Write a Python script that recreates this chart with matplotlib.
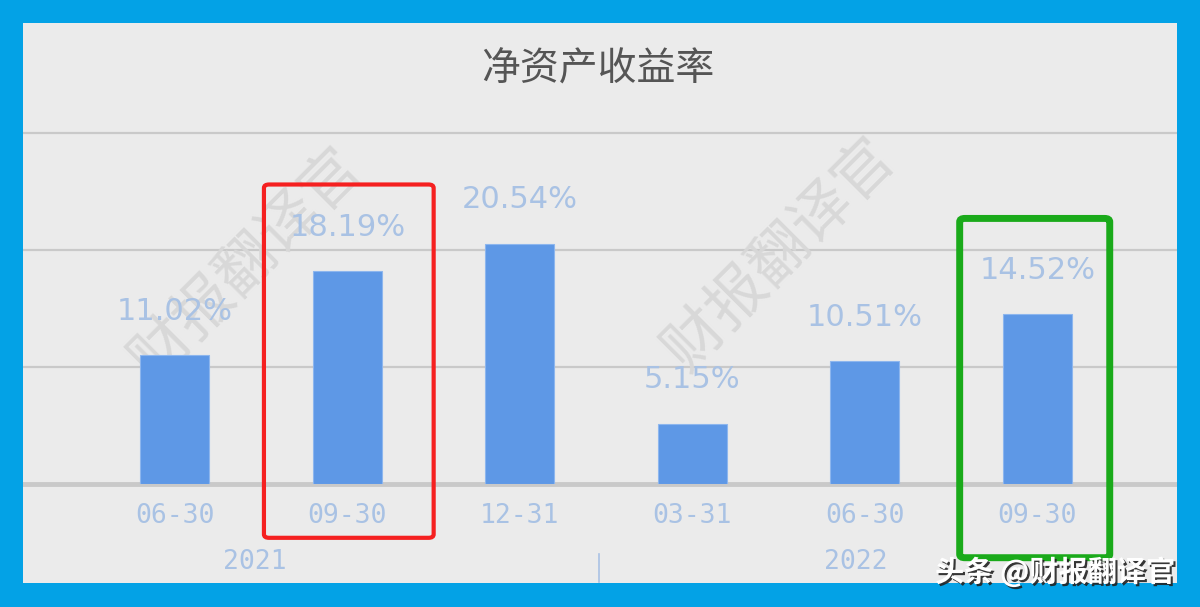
import matplotlib
matplotlib.use("Agg")
import matplotlib.pyplot as plt
from matplotlib.patches import Rectangle, FancyBboxPatch
import matplotlib.patheffects as pe

plt.rcParams['font.family'] = ['Noto Sans CJK SC', 'DejaVu Sans']

title = "净资产收益率"
categories = ['06-30', '09-30', '12-31', '03-31', '06-30', '09-30']
values = [11.02, 18.19, 20.54, 5.15, 10.51, 14.52]
years = ['2021', '2022']
year_pos = [0.46, 3.95]
year_sep = 2.46
highlight_red = 1
highlight_green = 5
watermark = "财报翻译官"
credit = "头条 @财报翻译官"

W, H = 1200, 607
fig = plt.figure(figsize=(W / 100, H / 100), dpi=100)
fig.patch.set_facecolor('#ebebeb')

# blue frame
blue = '#03a2e6'
for (x0, y0, w, h) in [(0, 0, 23, H), (1177, 0, W - 1177, H), (0, 0, W, 607 - 583), (0, 607 - 23, W, 23)]:
    fig.patches.append(Rectangle((x0 / W, y0 / H), w / W, h / H, transform=fig.transFigure,
                                 facecolor=blue, edgecolor='none', zorder=0))

ax = fig.add_axes([23 / W, 123 / H, (1177 - 23) / W, (585 - 123) / H])
ax.set_facecolor('#ebebeb')
ax.set_xlim(-0.881, 5.81)
ax.set_ylim(0, 39.49)

x = list(range(len(categories)))
ax.bar(x, values, width=0.4, color='#5e98e6', edgecolor='#8db6ee', linewidth=0.8, zorder=3)

ax.set_yticks([10, 20, 30])
ax.yaxis.grid(True, color='#c9c9c9', linewidth=1.6)
ax.set_axisbelow(True)
ax.tick_params(axis='y', left=False, labelleft=False)
for s in ['top', 'right', 'left']:
    ax.spines[s].set_visible(False)
ax.spines['bottom'].set_color('#c9c9c9')
ax.spines['bottom'].set_linewidth(3.5)

ax.set_xticks(x)
ax.set_xticklabels(categories, family=['DejaVu Sans Mono'], fontsize=19, color='#a9c2e4')
ax.tick_params(axis='x', length=0, pad=14)

for xi, v in zip(x, values):
    ax.annotate(f"{v:.2f}%", (xi, v), xytext=(0, 31.5), textcoords='offset points',
                ha='center', va='center', fontsize=22, color='#a9c2e4',
                family=['DejaVu Sans'], zorder=4)

for yp, yl in zip(year_pos, years):
    ax.text(yp, -6.67, yl, ha='center', va='center', fontsize=19, color='#a9c2e4',
            family=['DejaVu Sans Mono'], clip_on=False)
ax.plot([year_sep, year_sep], [-6.0, -8.4], color='#a9c2e4', linewidth=1.2, clip_on=False)

fig.text(598 / W, 1 - 70 / H, title, ha='center', va='center', fontsize=28, color='#555555')

# watermarks (faint, thin)
for (wx, wy) in [(247, 265), (780, 255)]:
    ax.text(wx / W, 1 - wy / H, watermark, ha='center', va='center', rotation=45,
            fontsize=43, color='#d8d8d8', weight='light', zorder=1,
            transform=fig.transFigure, clip_on=False)

# highlight boxes
ax.add_patch(FancyBboxPatch((highlight_red - 0.484, -4.6), 0.984, 30.2,
                            boxstyle='round,pad=0,rounding_size=0.03', fill=False,
                            edgecolor='#f52020', linewidth=3, clip_on=False, zorder=5,
                            mutation_aspect=10))
ax.add_patch(FancyBboxPatch((highlight_green - 0.45, -6.3), 0.87, 29.0,
                            boxstyle='round,pad=0,rounding_size=0.03', fill=False,
                            edgecolor='#1aaa1a', linewidth=5, clip_on=False, zorder=5,
                            mutation_aspect=10))

fig.text(1055 / W, 1 - 572 / H, credit, ha='center', va='center', fontsize=21,
         color='white', weight='bold', zorder=10,
         path_effects=[pe.withSimplePatchShadow(offset=(1.5, -1.5), shadow_rgbFace='#222222', alpha=0.9)])

fig.savefig('out.png', dpi=100, facecolor=fig.get_facecolor())
